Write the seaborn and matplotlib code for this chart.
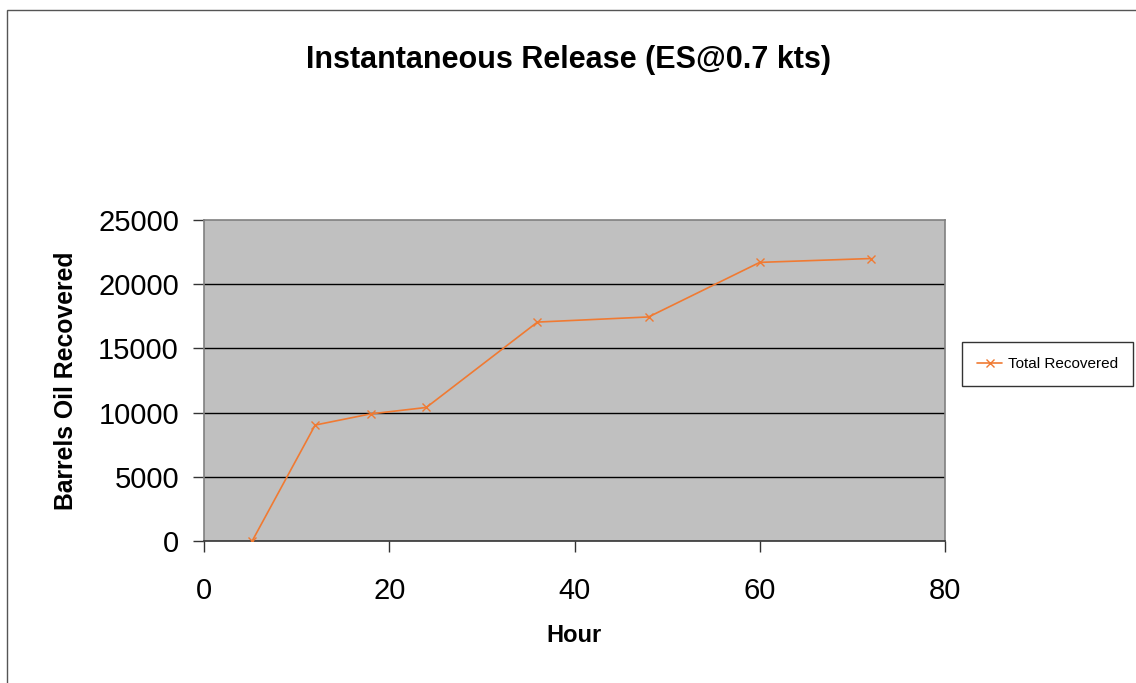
import matplotlib
matplotlib.use("Agg")
import matplotlib.pyplot as plt
import matplotlib.patches as mpatches
import seaborn as sns
import pandas as pd

# Recovery over time after an instantaneous release
hours = [5.2, 12, 18, 24, 36, 48, 60, 72]
recovered = [0, 9030, 9900, 10400, 17050, 17450, 21700, 22000]
series_name = "Total Recovered"

x_ticks = [0, 20, 40, 60, 80]
y_ticks = [0, 5000, 10000, 15000, 20000, 25000]

sns.set_style("white")
plt.rcParams["font.family"] = ["Liberation Sans", "DejaVu Sans"]
plt.rcParams["text.color"] = "black"
plt.rcParams["axes.labelcolor"] = "black"
plt.rcParams["xtick.color"] = "black"
plt.rcParams["ytick.color"] = "black"

df = pd.DataFrame({"Hour": hours, "Barrels": recovered, "Series": series_name})

fig = plt.figure(figsize=(11.36, 6.83), dpi=100)
fig.patch.set_facecolor("white")

# outer chart frame (runs off the right and bottom edges)
top = 1 - 10 / 683
fig.patches.append(mpatches.Rectangle((7 / 1136, -0.2), 1.2, top + 0.2,
                                      transform=fig.transFigure, fill=False,
                                      edgecolor="#555555", linewidth=1.0))

ax = fig.add_axes([204 / 1136, 1 - 541 / 683, (945 - 204) / 1136, (541 - 220) / 683])
ax.set_facecolor("#C0C0C0")

line_color = "#F07A32"
sns.lineplot(data=df, x="Hour", y="Barrels", hue="Series", palette=[line_color],
             marker="x", markersize=6, markeredgewidth=1.0, linewidth=1.2,
             markeredgecolor=line_color, ax=ax, zorder=3)

ax.set_xlim(0, 80)
ax.set_ylim(0, 25000)
ax.set_xticks(x_ticks)
ax.set_yticks(y_ticks)
ax.set_xticklabels([str(t) for t in x_ticks])
ax.set_yticklabels([str(t) for t in y_ticks])

for yv in y_ticks[1:-1]:
    ax.axhline(yv, color="black", linewidth=1.0, zorder=1)

for side in ["top", "right", "left"]:
    ax.spines[side].set_color("#808080")
    ax.spines[side].set_linewidth(1.2)
ax.spines["bottom"].set_color("#333333")
ax.spines["bottom"].set_linewidth(1.2)

ax.tick_params(axis="x", direction="out", length=8, width=1, color="#333333",
               pad=18, labelsize=21, bottom=True, labelcolor="black")
ax.tick_params(axis="y", direction="out", length=8, width=1, color="#333333",
               pad=10, labelsize=21, left=True, labelcolor="black")

ax.set_xlabel("Hour", fontsize=17, fontweight="bold", color="black", va="top")
ax.xaxis.set_label_coords(0.5, -(624 - 541) / 321)
ax.set_ylabel("Barrels Oil Recovered", fontsize=17.8, fontweight="bold", color="black")
ax.yaxis.set_label_coords(-(204 - 78) / 741, 0.5)

fig.text(568 / 1136, 1 - 60 / 683, "Instantaneous Release (ES@0.7 kts)",
         fontsize=22, fontweight="bold", ha="center", va="center", color="black")

handles, labels = ax.get_legend_handles_labels()
leg = fig.legend(handles, labels, loc="center left",
                 bbox_to_anchor=(962 / 1136, 1 - 364 / 683),
                 frameon=True, fancybox=False, fontsize=11,
                 handlelength=1.6, borderpad=1.0, handletextpad=0.4,
                 borderaxespad=0)
leg.get_frame().set_edgecolor("black")
leg.get_frame().set_linewidth(1.0)
for t in leg.get_texts():
    t.set_color("black")
if ax.get_legend() is not None:
    ax.get_legend().remove()

fig.savefig("out.png", dpi=100, facecolor="white")
